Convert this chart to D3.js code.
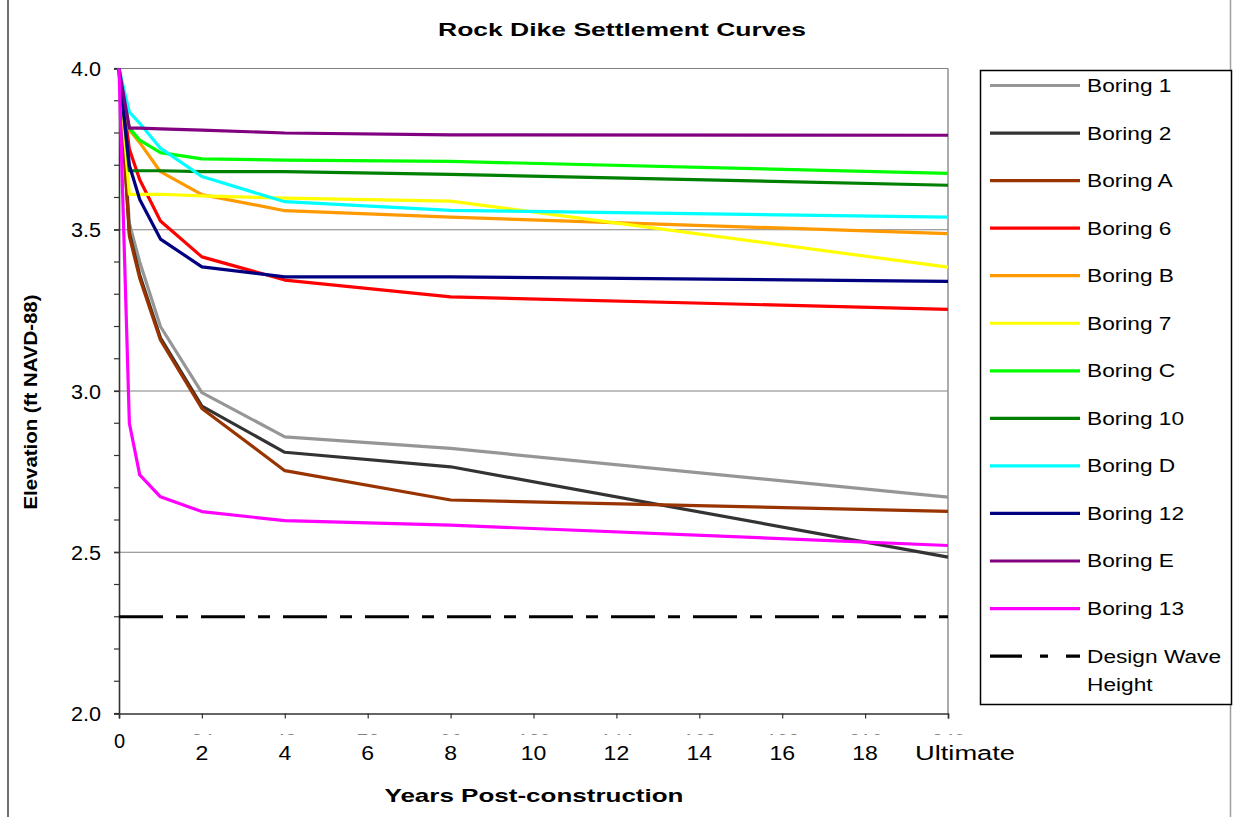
<!DOCTYPE html>
<html>
<head>
<meta charset="utf-8">
<script src="https://d3js.org/d3.v7.min.js"></script>
<style>
  html, body { margin: 0; padding: 0; background: #fff; }
  svg { display: block; font-family: "Liberation Sans", Arial, sans-serif; }
</style>
</head>
<body>
<svg id="chart" width="1235" height="817"></svg>
<script>
// ---------------- DATA ----------------
const months = [0, 3, 6, 12, 24, 48, 96, 240];

const boring1  = [4.0, 3.52, 3.40, 3.20, 2.995, 2.858, 2.822, 2.671];
const boring2  = [4.0, 3.49, 3.36, 3.165, 2.953, 2.81, 2.765, 2.485];
const boringA  = [4.0, 3.48, 3.35, 3.158, 2.946, 2.753, 2.662, 2.627];
const boring6  = [4.0, 3.75, 3.655, 3.527, 3.416, 3.344, 3.292, 3.253];
const boringB  = [4.0, 3.81, 3.77, 3.68, 3.609, 3.559, 3.539, 3.488];
const boring7  = [4.0, 3.61, 3.61, 3.61, 3.605, 3.598, 3.589, 3.384];
const boringC  = [4.0, 3.815, 3.778, 3.739, 3.72, 3.716, 3.712, 3.675];
const boring10 = [4.0, 3.683, 3.683, 3.683, 3.68, 3.68, 3.672, 3.638];
const boringD  = [4.0, 3.865, 3.83, 3.753, 3.665, 3.587, 3.56, 3.539];
const boring12 = [4.0, 3.70, 3.594, 3.471, 3.385, 3.354, 3.354, 3.34];
const boringE  = [4.0, 3.815, 3.815, 3.813, 3.809, 3.80, 3.794, 3.793];
const boring13 = [4.0, 2.90, 2.74, 2.672, 2.626, 2.598, 2.584, 2.521];
const designWaveHeight = [2.3, 2.3];
const designWaveMonths = [0, 240];

const seriesNames  = ["Boring 1","Boring 2","Boring A","Boring 6","Boring B","Boring 7","Boring C","Boring 10","Boring D","Boring 12","Boring E","Boring 13"];
const seriesValues = [boring1, boring2, boringA, boring6, boringB, boring7, boringC, boring10, boringD, boring12, boringE, boring13];
const seriesColors = ["#969696","#333333","#993300","#FF0000","#FF9900","#FFFF00","#00FF00","#008000","#00FFFF","#000080","#800080","#FF00FF"];

const monthTicks = [0, 24, 48, 72, 96, 120, 144, 168, 192, 216, 240];
const yearLabels = ["2","4","6","8","10","12","14","16","18","Ultimate"];
const yTicks = [2.0, 2.5, 3.0, 3.5, 4.0];
const yMinorTicks = d3.range(20, 41).map(d => d / 10);

const titleText = "Rock Dike Settlement Curves";
const xTitle = "Years Post-construction";
const yTitle = "Elevation (ft NAVD-88)";

// ---------------- LAYOUT ----------------
const svg = d3.select("#chart");
const L = 119, R = 948, T = 68.5, B = 713.5;

const x = d3.scaleLinear().domain([0, 240]).range([L, R]);
const y = d3.scaleLinear().domain([2.0, 4.0]).range([B, T]);

function stretchTo(sel, len) {
  sel.attr("textLength", len).attr("lengthAdjust", "spacingAndGlyphs");
}
function stretchBy(sel, f) {
  sel.each(function () {
    const w = this.getComputedTextLength();
    d3.select(this).attr("textLength", w * f).attr("lengthAdjust", "spacingAndGlyphs");
  });
}

// outer chart border
svg.append("line").attr("x1", 8).attr("x2", 8).attr("y1", 0).attr("y2", 817)
  .attr("stroke", "#404040").attr("stroke-width", 1.5);
svg.append("line").attr("x1", 1230.5).attr("x2", 1230.5).attr("y1", 0).attr("y2", 817)
  .attr("stroke", "#a0a0a0").attr("stroke-width", 1.5);

// title
svg.append("text").attr("x", 622).attr("y", 36).attr("text-anchor", "middle")
  .attr("font-size", 19).attr("font-weight", "bold").text(titleText)
  .call(stretchTo, 368);

// gridlines
svg.append("g").selectAll("line").data(yTicks.filter(d => d > 2.0))
  .join("line")
  .attr("x1", L).attr("x2", R)
  .attr("y1", d => y(d)).attr("y2", d => y(d))
  .attr("stroke", "#808080").attr("stroke-width", 1.2);
// right plot border
svg.append("line").attr("x1", R).attr("x2", R).attr("y1", T).attr("y2", B)
  .attr("stroke", "#909090").attr("stroke-width", 1.5);

// y axis minor ticks
svg.append("g").selectAll("line").data(yMinorTicks).join("line")
  .attr("x1", L - 5).attr("x2", L).attr("y1", d => y(d)).attr("y2", d => y(d))
  .attr("stroke", "#333").attr("stroke-width", 1.2);

// y axis
const yAxis = svg.append("g").attr("transform", `translate(${L},0)`)
  .call(d3.axisLeft(y).tickValues(yTicks).tickFormat(d3.format(".1f")).tickSize(5).tickPadding(13));
yAxis.select(".domain").attr("stroke", "#333").attr("stroke-width", 1.6);
yAxis.selectAll(".tick line").attr("stroke", "#333").attr("stroke-width", 1.2);
yAxis.selectAll("text").attr("font-size", 20).attr("font-family", "Liberation Sans, Arial, sans-serif")
  .attr("fill", "#000").attr("dy", "0.36em").call(stretchBy, 1.08);

// x axis (month ticks; mostly hidden behind the year text box, as in the original)
const xAxis = svg.append("g").attr("transform", `translate(0,${B})`)
  .call(d3.axisBottom(x).tickValues(monthTicks).tickFormat(d3.format("d")).tickSize(5).tickPadding(15));
xAxis.select(".domain").attr("stroke", "#333").attr("stroke-width", 1.6);
xAxis.selectAll(".tick line").attr("stroke", "#333").attr("stroke-width", 1.2);
xAxis.selectAll("text").attr("font-size", 20).attr("font-family", "Liberation Sans, Arial, sans-serif")
  .attr("fill", "#000").attr("dy", "0.71em");

// white box covering month labels (years text box overlaid)
svg.append("rect").attr("x", x(12) - 15).attr("y", 734.5).attr("width", 900).attr("height", 35)
  .attr("fill", "#fff");

// year labels
svg.append("g").selectAll("text").data(yearLabels).join("text")
  .attr("x", (d, i) => i === yearLabels.length - 1 ? x(monthTicks[i + 1]) - 33 : x(monthTicks[i + 1]))
  .attr("y", 760)
  .attr("text-anchor", (d, i) => i === yearLabels.length - 1 ? "start" : "middle")
  .attr("font-size", 20)
  .text(d => d)
  .each(function (d, i) {
    if (i === yearLabels.length - 1) stretchTo(d3.select(this), 100);
    else stretchBy(d3.select(this), 1.15);
  });

// axis titles
svg.append("text").attr("x", 534).attr("y", 802).attr("text-anchor", "middle")
  .attr("font-size", 19).attr("font-weight", "bold").text(xTitle)
  .call(stretchTo, 299);
svg.append("text").attr("transform", "translate(37,402) rotate(-90)").attr("text-anchor", "middle")
  .attr("font-size", 19).attr("font-weight", "bold").text(yTitle)
  .call(stretchTo, 215);

// series lines
const line = d3.line().x((d, i) => x(months[i])).y(d => y(d));
const plot = svg.append("g");
seriesValues.forEach((vals, k) => {
  plot.append("path").datum(vals)
    .attr("d", line)
    .attr("fill", "none")
    .attr("stroke", seriesColors[k])
    .attr("stroke-width", 3.2)
    .attr("stroke-linejoin", "round");
});
// design wave height
const dwLine = d3.line().x((d, i) => x(designWaveMonths[i])).y(d => y(d));
plot.append("path").datum(designWaveHeight)
  .attr("d", dwLine)
  .attr("fill", "none").attr("stroke", "#000").attr("stroke-width", 3.2)
  .attr("stroke-dasharray", "44,13,12,13");

// legend
const lg = svg.append("g");
lg.append("rect").attr("x", 980.5).attr("y", 70.5).attr("width", 251).attr("height", 634)
  .attr("fill", "#fff").attr("stroke", "#000").attr("stroke-width", 1.5);
const legY0 = 85.5, legStep = 47.55;
seriesNames.forEach((name, k) => {
  const yy = legY0 + k * legStep;
  lg.append("line").attr("x1", 990).attr("x2", 1080).attr("y1", yy).attr("y2", yy)
    .attr("stroke", seriesColors[k]).attr("stroke-width", 3.2);
  lg.append("text").attr("x", 1087).attr("y", yy).attr("dy", "0.36em")
    .attr("font-size", 18).text(name).call(stretchBy, 1.26);
});
{
  const yy = legY0 + 12 * legStep;
  lg.append("line").attr("x1", 990).attr("x2", 1080).attr("y1", yy).attr("y2", yy)
    .attr("stroke", "#000").attr("stroke-width", 3.2).attr("stroke-dasharray", "32,18,8,18");
  lg.append("text").attr("x", 1087).attr("y", yy).attr("dy", "0.36em")
    .attr("font-size", 18).text("Design Wave").call(stretchBy, 1.26);
  lg.append("text").attr("x", 1087).attr("y", yy + 28).attr("dy", "0.36em")
    .attr("font-size", 18).text("Height").call(stretchBy, 1.26);
}
</script>
</body>
</html>
